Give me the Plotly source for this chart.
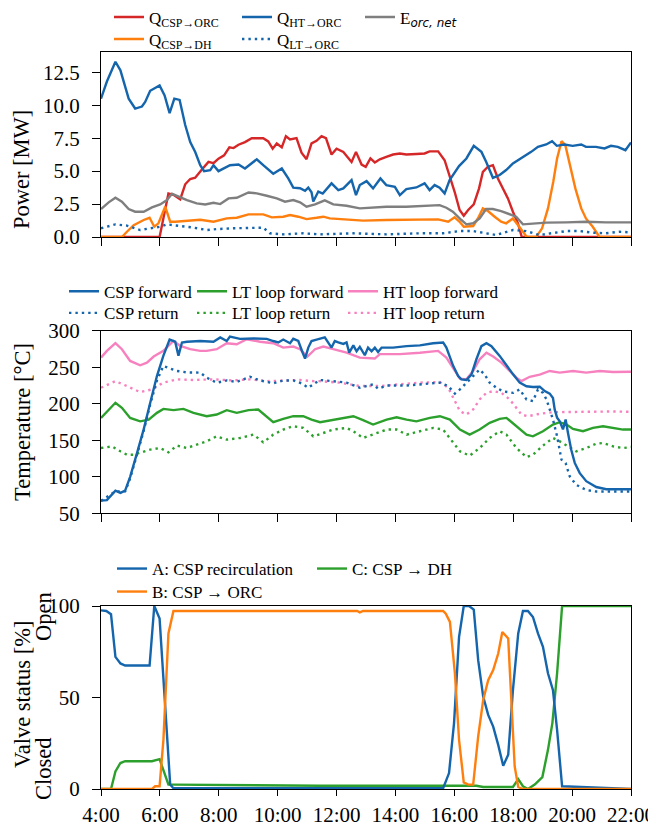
import plotly.graph_objects as go

# ---------------- Panel 1: power [MW] ----------------
t_q_ht_orc = [4.0, 4.2, 4.49, 4.66, 4.94, 5.16, 5.39, 5.5, 5.67, 5.99, 6.16, 6.33, 6.49, 6.67, 6.86, 7.03,
              7.2, 7.37, 7.5, 7.71, 7.82, 7.99, 8.38, 8.67, 8.89, 9.29, 9.51, 9.85, 10.14, 10.36, 10.53,
              10.76, 10.93, 11.04, 11.15, 11.21, 11.38, 11.53, 11.83, 12.06, 12.23, 12.51, 12.66, 12.79,
              13.02, 13.24, 13.49, 13.69, 13.98, 14.15, 14.37, 14.71, 14.99, 15.16, 15.33, 15.5, 15.67,
              15.84, 16.16, 16.41, 16.66, 16.92, 17.08, 17.31, 17.54, 17.76, 17.99, 18.27, 18.61, 18.84,
              19.12, 19.32, 19.48, 19.74, 20.02, 20.31, 20.47, 20.81, 21.1, 21.32, 21.55, 21.81, 22.0]
q_ht_orc = [10.5, 11.8, 13.3, 12.65, 10.5, 9.75, 9.9, 10.25, 11.1, 11.5, 10.75, 9.4, 10.5, 10.4, 8.5, 7.2,
            6.45, 5.45, 5.0, 5.08, 5.45, 5.0, 5.45, 5.5, 5.2, 5.9, 5.45, 4.8, 5.2, 4.45, 3.75,
            3.7, 3.5, 3.75, 3.4, 2.7, 3.45, 3.3, 4.07, 3.56, 3.69, 4.32, 3.18, 3.94,
            4.24, 3.69, 4.44, 3.94, 3.81, 3.18, 3.64, 3.76, 4.07, 3.56, 3.94, 3.74, 3.31,
            4.32, 5.38, 5.96, 6.92, 6.46, 5.71, 4.49, 4.7, 5.08, 5.58, 5.96, 6.46, 6.84,
            7.02, 7.27, 6.92, 7.02, 6.92, 7.02, 6.84, 6.84, 6.72, 6.92, 6.84, 6.59, 7.17]

t_q_csp_orc = [4.0, 5.99, 6.29, 6.46, 6.69, 6.86, 7.03, 7.2, 7.42, 7.65, 7.82, 7.99, 8.18, 8.36, 8.5, 8.67,
               8.89, 9.12, 9.51, 9.68, 9.83, 9.97, 10.14, 10.28, 10.42, 10.64, 10.81, 10.98, 11.15, 11.32,
               11.49, 11.64, 11.83, 12.0, 12.23, 12.51, 12.66, 12.85, 12.99, 13.15, 13.3, 13.47, 13.69,
               13.92, 14.15, 14.37, 14.71, 14.99, 15.16, 15.45, 15.67, 15.84, 16.01, 16.18, 16.32, 16.47,
               16.66, 16.84, 16.97, 17.14, 17.31, 17.48, 17.65, 17.82, 17.99, 18.16, 18.29, 22.0]
q_csp_orc = [0, 0, 3.3, 3.2, 2.85, 4.0, 4.4, 4.5, 5.1, 5.7, 5.6, 5.95, 6.2, 6.8, 6.75, 7.0,
             7.2, 7.5, 7.5, 7.25, 6.7, 7.1, 6.8, 7.65, 7.4, 7.5, 6.4, 5.9, 7.1, 7.3,
             7.65, 7.5, 6.26, 6.7, 6.46, 5.7, 6.46, 5.5, 5.33, 5.96, 5.66, 5.9, 6.08,
             6.26, 6.34, 6.26, 6.3, 6.34, 6.5, 6.5, 5.83, 4.7, 3.43, 2.05, 1.62, 2.05,
             2.47, 3.69, 4.95, 5.33, 5.45, 4.44, 3.69, 2.93, 1.92, 1.04, 0, 0]

t_q_csp_dh = [4.0, 4.71, 4.88, 5.11, 5.45, 5.65, 5.81, 5.95, 6.18, 6.35, 6.52, 6.92, 7.37, 7.82, 8.27, 8.61,
              9.01, 9.51, 9.8, 10.19, 10.42, 10.7, 10.98, 11.32, 11.55, 11.77, 12.11, 12.56, 12.9, 13.69,
              14.82, 15.45, 15.79, 16.01, 16.18, 16.32, 16.64, 16.8, 16.97, 17.14, 17.37, 17.59, 17.76,
              17.99, 18.16, 18.33, 18.46, 18.78, 18.98, 19.18, 19.36, 19.49, 19.64, 19.77, 19.93, 20.11,
              20.31, 20.47, 20.7, 20.93, 22.0]
q_csp_dh = [0, 0, 0.4, 0.9, 1.29, 1.46, 0.78, 1.04, 2.3, 1.16, 1.16, 1.24, 1.31, 1.16, 1.41, 1.46,
            1.72, 1.72, 1.49, 1.54, 1.67, 1.54, 1.36, 1.46, 1.54, 1.41, 1.36, 1.26, 1.24, 1.29,
            1.34, 1.34, 1.16, 1.49, 1.16, 0.78, 0.83, 1.41, 2.17, 1.97, 1.54, 1.16, 1.04,
            1.41, 0.91, 0.4, 0, 0, 0.66, 2.17, 4.19, 5.96, 7.27, 6.97, 5.45, 3.69,
            2.17, 1.41, 0.78, 0, 0]

t_q_lt_orc = [4.0, 4.49, 4.88, 5.33, 5.67, 6.01, 6.24, 6.69, 7.14, 7.59, 7.93, 8.5, 9.18, 9.51, 9.74,
              10.19, 10.87, 11.44, 12.56, 13.69, 14.82, 15.62, 16.18, 16.64, 17.08, 17.42, 17.99, 18.44,
              18.89, 19.36, 19.81, 20.26, 20.7, 21.15, 21.6, 22.0]
q_lt_orc = [0.66, 0.96, 0.86, 0.53, 0.66, 0.78, 0.96, 0.86, 0.71, 0.53, 0.6, 0.66, 0.66, 0.71, 0.28,
            0.2, 0.28, 0.2, 0.28, 0.2, 0.28, 0.28, 0.45, 0.45, 0.28, 0.15, 0.53, 0.45,
            0.15, 0.28, 0.45, 0.45, 0.33, 0.28, 0.4, 0.35]

t_e_orc_net = [4.0, 4.26, 4.49, 4.71, 4.94, 5.16, 5.45, 5.73, 6.01, 6.24, 6.41, 6.63, 6.92, 7.25, 7.54, 7.82,
               8.05, 8.33, 8.61, 9.01, 9.29, 9.63, 9.97, 10.25, 10.53, 10.76, 10.98, 11.27, 11.55, 11.6,
               11.89, 12.34, 12.79, 13.24, 13.69, 14.37, 15.05, 15.5, 15.73, 15.95, 16.24, 16.41, 16.64,
               16.86, 17.08, 17.31, 17.59, 17.88, 18.1, 18.33, 18.67, 19.12, 19.8, 20.47, 21.15, 22.0]
e_orc_net = [2.12, 2.63, 2.98, 2.68, 2.12, 1.92, 1.92, 2.25, 2.47, 2.8, 3.28, 3.06, 2.8, 2.55, 2.47, 2.6,
             2.5, 2.93, 2.98, 3.38, 3.31, 3.13, 2.93, 2.68, 2.8, 2.63, 2.3, 2.47, 2.73, 2.78,
             2.47, 2.37, 2.17, 2.22, 2.3, 2.3, 2.37, 2.42, 2.22, 1.92, 1.29, 0.96, 1.04,
             1.41, 2.12, 2.12, 1.97, 1.72, 1.54, 0.96, 1.01, 1.09, 1.11, 1.16, 1.11, 1.11]

# ---------------- Panel 2: temperature [°C] ----------------
t_csp_fwd = [4.0, 4.2, 4.49, 4.66, 4.82, 4.99, 5.22, 5.45, 5.67, 5.9, 6.12, 6.33, 6.52, 6.63, 6.75, 6.92,
             7.37, 7.82, 8.05, 8.27, 8.38, 8.72, 9.18, 9.63, 9.85, 10.02, 10.19, 10.42, 10.53, 10.7,
             10.85, 10.93, 11.04, 11.15, 11.32, 11.6, 11.83, 11.94, 12.06, 12.23, 12.34, 12.43, 12.57,
             12.68, 12.79, 12.96, 13.07, 13.19, 13.3, 13.41, 13.53, 13.92, 14.38, 14.83, 15.28, 15.62,
             15.73, 15.96, 16.13, 16.24, 16.41, 16.58, 16.75, 16.92, 17.09, 17.26, 17.54, 17.77, 18.0,
             18.22, 18.45, 18.67, 18.9, 19.07, 19.24, 19.35, 19.41, 19.49, 19.58, 19.69, 19.78, 19.86,
             19.97, 20.09, 20.26, 20.48, 20.82, 21.16, 21.61, 22.0]
csp_fwd = [67.4, 68, 81, 78, 81, 100, 132, 165, 201, 238, 266, 288, 285, 266, 284, 285,
           286, 285, 291, 286, 292, 289, 289.5, 289, 286, 284, 288, 283, 289, 286,
           270, 262, 277, 286, 288, 291, 277, 286, 284, 282, 284, 270, 280,
           272, 278, 266.5, 277, 272, 277, 271, 277, 277, 279, 280, 283, 284,
           277, 252, 238, 233.5, 232.6, 240, 261, 279, 283, 279, 265.6, 252, 240,
           229, 224, 223, 223.4, 217.4, 214, 208, 192, 181, 176, 165, 178.4, 160,
           137, 119, 105, 94, 86, 83, 83, 83]

t_csp_ret = [4.0, 4.49, 4.82, 4.99, 5.22, 5.45, 5.67, 5.9, 6.12, 6.58, 6.92, 7.37, 7.59, 7.93, 8.27, 8.61,
             9.06, 9.4, 9.85, 10.19, 10.53, 10.81, 11.04, 11.27, 11.43, 11.89, 12.34, 12.79, 13.24,
             13.41, 13.7, 14.38, 15.05, 15.51, 15.79, 16.02, 16.19, 16.41, 16.64, 16.86, 17.03, 17.2,
             17.43, 17.66, 18.0, 18.22, 18.45, 18.67, 18.84, 19.01, 19.13, 19.24, 19.35, 19.49, 19.64,
             19.78, 19.92, 20.14, 20.48, 20.82, 21.39, 22.0]
csp_ret = [67, 80, 80, 98, 130, 163, 199, 232, 251.8, 245, 243, 242.7, 235.8, 228.9, 232, 230,
           237, 232, 228, 232, 232, 228, 222, 228, 232.6, 231, 229, 222, 226.6,
           220.6, 225, 225, 227.5, 229, 224.3, 214, 219.7, 229, 238, 247, 240, 229,
           222, 217, 215, 219.7, 206, 203.7, 219.7, 215, 206, 192, 178.4, 155.5, 123.4,
           118.8, 100.5, 89, 82, 79.8, 79.8, 79.8]

t_ht_fwd = [4.0, 4.2, 4.49, 4.71, 4.99, 5.33, 5.56, 5.79, 6.12, 6.46, 6.69, 7.03, 7.37, 7.59, 7.93, 8.27,
            8.61, 8.95, 9.4, 9.85, 10.19, 10.53, 10.76, 11.01, 11.27, 11.55, 11.89, 12.34, 12.79, 13.3,
            13.47, 14.15, 14.83, 15.45, 15.73, 15.96, 16.19, 16.41, 16.64, 16.86, 17.09, 17.32, 17.6,
            17.88, 18.11, 18.28, 18.56, 18.9, 19.24, 19.58, 20.03, 20.48, 20.94, 21.39, 22.0]
ht_fwd = [263.3, 272.5, 283, 274.8, 258.7, 252.8, 256.4, 264.7, 272.5, 286, 279.4, 274.8, 272.5, 272.5,
          274.8, 283, 281.6, 288.5, 285, 283, 277, 278.4, 274.8, 264.7, 274.8, 278.4, 274.8, 270,
          263.3, 262, 268, 268, 270, 272.5, 263.3, 249.5, 234.4, 233.5, 245, 261, 270, 264.7, 256.4,
          245, 235.8, 231, 237, 240, 245, 242.7, 245, 242.7, 245, 243.5, 244]

t_ht_ret = [4.0, 4.49, 4.88, 5.33, 5.73, 6.12, 6.58, 7.14, 7.82, 8.5, 9.06, 9.63, 10.31, 10.76, 11.21,
            11.43, 12.11, 12.79, 13.47, 14.15, 14.83, 15.51, 15.79, 16.02, 16.19, 16.41, 16.64, 16.86,
            17.09, 17.32, 17.6, 17.88, 18.11, 18.28, 18.5, 18.9, 19.35, 20.03, 20.71, 21.39, 22.0]
ht_ret = [222, 231, 224.3, 216, 219.7, 229, 233.5, 232.6, 233.5, 232, 233.5, 231, 232, 232.6, 231,
          231, 229, 224.3, 224.3, 226.6, 229, 229.8, 222, 203.7, 190, 185.3, 192.2, 206,
          215, 217.4, 215, 206, 194.5, 185.3, 183, 186.3, 188.5, 189, 189, 189.5, 189]

t_lt_fwd = [4.0, 4.26, 4.49, 4.71, 4.99, 5.33, 5.62, 5.9, 6.12, 6.46, 6.8, 7.14, 7.59, 7.93, 8.27, 8.61,
            9.01, 9.34, 9.63, 9.85, 10.19, 10.53, 10.87, 11.15, 11.44, 11.89, 12.23, 12.57, 12.9, 13.24,
            13.7, 14.04, 14.38, 14.71, 15.17, 15.51, 15.85, 16.19, 16.52, 16.86, 17.2, 17.54, 17.77,
            18.11, 18.45, 18.67, 19.01, 19.35, 19.58, 19.81, 20.03, 20.37, 20.71, 21.05, 21.39, 21.73, 22.0]
lt_fwd = [180.7, 192, 201.4, 194.5, 180.7, 176, 178.4, 187.6, 193, 191.3, 193, 187.6, 183, 185.3, 191.3,
          187.6, 191.3, 192.2, 183, 174.8, 179.4, 183, 183, 178.4, 174.8, 178.4, 180.7, 183, 177.5,
          171.6, 178.4, 181.6, 178.4, 176, 180.7, 183, 178.4, 164.7, 157.8, 164.7, 173.9, 179.4, 180.7,
          169.3, 157.8, 155.5, 162.4, 171.6, 174.8, 171.6, 165.6, 162.4, 167, 169.3, 167, 164.7, 164.7]

t_lt_ret = [4.0, 4.37, 4.66, 4.88, 5.11, 5.33, 5.67, 6.01, 6.29, 6.58, 6.92, 7.25, 7.59, 7.93, 8.27, 8.72,
            9.18, 9.51, 9.85, 10.19, 10.53, 10.87, 11.21, 11.55, 11.89, 12.34, 12.57, 12.9, 13.24, 13.7,
            14.04, 14.38, 14.83, 15.28, 15.62, 15.85, 16.19, 16.52, 16.86, 17.2, 17.54, 17.77, 18.11,
            18.45, 18.67, 19.01, 19.35, 19.58, 19.81, 20.14, 20.48, 20.82, 21.05, 21.39, 21.73, 22.0]
lt_ret = [139.4, 141.7, 134.9, 130.3, 130.3, 132.6, 137.2, 139.4, 133.5, 142.7, 139.4, 144, 148.6, 155.5,
          150.9, 153.2, 157.8, 147.2, 157.8, 164.7, 169.3, 167, 155.5, 160, 164.7, 167, 162.4, 153.2,
          157.8, 164.7, 164.7, 157.8, 162.4, 167, 164.7, 153.2, 134.9, 129, 139.4, 153.2, 162.4, 157.8,
          139.4, 127, 130.3, 142.7, 153.2, 148.6, 142.7, 134.9, 139.4, 145.4, 146.3, 141.7, 139.4, 140.8]

# ---------------- Panel 3: valve status [%] ----------------
t_valve_a = [4.0, 4.18, 4.34, 4.49, 4.66, 4.82, 5.65, 5.81, 5.99, 6.12, 6.24, 6.35, 6.46, 15.62, 15.82,
             15.99, 16.16, 16.32, 16.5, 16.66, 16.81, 16.98, 17.15, 17.32, 17.49, 17.66, 17.83, 17.99,
             18.17, 18.33, 18.5, 18.67, 18.84, 19.01, 19.18, 19.35, 19.49, 19.66, 22.0]
valve_a = [97.6, 97.3, 95.5, 72.2, 68.6, 67.5, 67.5, 100, 93.1, 61.3, 28.7, 2.4, 0.4, 0.4, 8.7,
           36, 83, 100, 100, 98, 70.4, 50.5, 40.5, 34.1, 24.1, 12.7, 18.7, 54,
           85, 97.3, 97.3, 94, 85, 77.7, 63.2, 54, 32.3, 1.5, 0]

t_valve_b = [4.0, 5.73, 5.84, 5.99, 6.12, 6.29, 6.46, 12.7, 12.79, 12.9, 15.62, 15.71, 15.85, 16.02, 16.16,
             16.32, 16.47, 16.64, 16.81, 16.98, 17.15, 17.32, 17.49, 17.63, 17.83, 17.94, 18.05, 18.17,
             18.33, 22.0]
valve_b = [0, 0, 1.5, 1.5, 26.9, 85, 97.3, 97.3, 96.5, 97.3, 97.3, 95.8, 91.3, 63.2, 26.9,
           3.6, 2.4, 2.4, 28.7, 48.6, 59.5, 65, 74, 85.8, 82.2, 45, 12.3, 1.1,
           0, 0]

t_valve_c = [4.0, 4.34, 4.49, 4.66, 4.82, 5.73, 5.99, 6.12, 6.29, 6.46, 11.43, 16.75, 16.98, 17.99, 18.17,
             18.33, 18.5, 18.73, 18.99, 19.18, 19.33, 19.49, 19.66, 22.0]
valve_c = [0, 0, 9.6, 14.2, 15.2, 15.2, 16.3, 10.5, 2.4, 2.4, 1.8, 1.8, 1.1, 1.1, 5.4,
           1.5, 0, 2.4, 6.5, 21.4, 36, 63.2, 100, 100]

tick_hours = [4, 6, 8, 10, 12, 14, 16, 18, 20, 22]
tick_labels = ["4:00", "6:00", "8:00", "10:00", "12:00", "14:00", "16:00", "18:00", "20:00", "22:00"]
power_ticks = [0, 2.5, 5, 7.5, 10, 12.5]
temp_ticks = [50, 100, 150, 200, 250, 300]
valve_ticks = [0, 50, 100]

# ---------------- styling ----------------
FONT = "Liberation Serif"
RED, BLUE, ORANGE, GRAY = "#d62728", "#1565ad", "#ff7f0e", "#7f7f7f"
GREEN, PINK = "#2ca02c", "#f781bf"
LW = 2.4
DOT = "2.4px,4px"

OFF = 8                      # page body margin of the html page
W, H = 656 - OFF, 827 - OFF  # figure size that fits the window
ML = 101 - OFF               # left edge of plot area (window px 101)
MR = W - (631 - OFF)         # right edge of plot area (window px 631)


def px_x(px):
    """window pixel x -> paper x"""
    return (px - OFF - ML) / (W - ML - MR)


def px_y(py):
    """window pixel y -> paper y"""
    return 1 - (py - OFF) / H


fig = go.Figure()

E_NAME = 'E<sub><span style="font-family:DejaVu Sans;font-style:italic">orc, net</span></sub>'

series = [
    (t_q_csp_orc, q_csp_orc, "Q<sub>CSP→ORC</sub>", RED, None, 1, "legend"),
    (t_q_csp_dh, q_csp_dh, "Q<sub>CSP→DH</sub>", ORANGE, None, 1, "legend2"),
    (t_q_ht_orc, q_ht_orc, "Q<sub>HT→ORC</sub>", BLUE, None, 1, "legend3"),
    (t_q_lt_orc, q_lt_orc, "Q<sub>LT→ORC</sub>", BLUE, DOT, 1, "legend4"),
    (t_e_orc_net, e_orc_net, E_NAME, GRAY, None, 1, "legend5"),
    (t_lt_ret, lt_ret, "LT loop return", GREEN, DOT, 2, "legend9"),
    (t_lt_fwd, lt_fwd, "LT loop forward", GREEN, None, 2, "legend8"),
    (t_ht_ret, ht_ret, "HT loop return", PINK, DOT, 2, "legend11"),
    (t_ht_fwd, ht_fwd, "HT loop forward", PINK, None, 2, "legend10"),
    (t_csp_ret, csp_ret, "CSP return", BLUE, DOT, 2, "legend7"),
    (t_csp_fwd, csp_fwd, "CSP forward", BLUE, None, 2, "legend6"),
    (t_valve_c, valve_c, "C: CSP → DH", GREEN, None, 3, "legend14"),
    (t_valve_a, valve_a, "A: CSP recirculation", BLUE, None, 3, "legend12"),
    (t_valve_b, valve_b, "B: CSP → ORC", ORANGE, None, 3, "legend13"),
]

for t, y, name, color, dash, ax, lg in series:
    assert len(t) == len(y), name
    suffix = "" if ax == 1 else str(ax)
    line = dict(color=color, width=LW)
    if dash:
        line["dash"] = dash
    fig.add_trace(go.Scatter(x=t, y=y, name=name, mode="lines", line=line,
                             xaxis="x" + suffix, yaxis="y" + suffix, legend=lg))

# legend positions in window px: (text-left, line-centre)
legend_pos = {
    "legend": (149, 17.5), "legend2": (149, 39.5),
    "legend3": (277, 17.5), "legend4": (277, 39.5),
    "legend5": (400, 17.5),
    "legend6": (104, 291.7), "legend7": (104, 313.3),
    "legend8": (232, 291.7), "legend9": (232, 313.3),
    "legend10": (383, 291.7), "legend11": (383, 313.3),
    "legend12": (152, 569), "legend13": (152, 592),
    "legend14": (352, 569),
}

layout = dict(
    width=W, height=H,
    margin=dict(l=ML, r=MR, t=0, b=0, autoexpand=False),
    paper_bgcolor="white", plot_bgcolor="white",
    font=dict(family=FONT, size=21, color="black"),
    showlegend=True,
)

for lg, (tx, ly) in legend_pos.items():
    layout[lg] = dict(
        x=px_x(tx - 40), y=px_y(ly), xanchor="left", yanchor="middle",
        xref="paper", yref="paper",
        bgcolor="rgba(0,0,0,0)", borderwidth=0,
        font=dict(family=FONT, size=17, color="black"),
        itemwidth=30,
    )

axis_common = dict(
    showline=True, linecolor="black", linewidth=1.3, mirror=True,
    ticks="outside", ticklen=8, tickwidth=1.3, tickcolor="black",
    showgrid=False, zeroline=False,
    tickfont=dict(family=FONT, size=21, color="black"),
)

domains = {
    1: (px_y(237), px_y(52)),
    2: (px_y(513.3), px_y(330.8)),
    3: (px_y(789), px_y(606)),
}

for i in (1, 2, 3):
    sx = "" if i == 1 else str(i)
    layout["xaxis" + sx] = dict(
        axis_common, domain=[0, 1], anchor="y" + sx, range=[4, 22],
        tickmode="array", tickvals=tick_hours, ticktext=tick_labels,
        showticklabels=(i == 3),
    )
layout["xaxis3"].update(ticklabelstandoff=1, ticklen=6)

ycommon = dict(axis_common, ticklabelstandoff=8)
layout["yaxis"] = dict(ycommon, domain=list(domains[1]), anchor="x", range=[0, 14.04],
                       tickmode="array", tickvals=power_ticks, tickformat=".1f")
layout["yaxis2"] = dict(ycommon, domain=list(domains[2]), anchor="x2", range=[50, 300],
                        tickmode="array", tickvals=temp_ticks)
layout["yaxis3"] = dict(ycommon, domain=list(domains[3]), anchor="x3", range=[0, 100],
                        tickmode="array", tickvals=valve_ticks)

ann = []
for text, x, y in [("Power [MW]", 22, 170), ("Temperature [°C]", 22, 422),
                   ("Valve status [%]", 22, 695), ("Open", 43, 617), ("Closed", 43, 769)]:
    ann.append(dict(text=text, x=px_x(x), y=px_y(y), xref="paper", yref="paper",
                    xanchor="center", yanchor="middle", textangle=-90, showarrow=False,
                    font=dict(family=FONT, size=22.5, color="black")))
layout["annotations"] = ann

fig.update_layout(**layout)
fig.write_html("out.html")
